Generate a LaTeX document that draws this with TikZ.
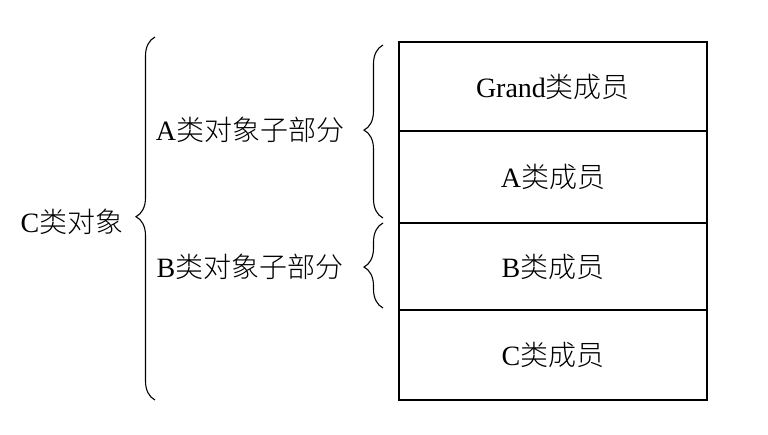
\documentclass[tikz,border=0pt]{standalone}
\usepackage{fontspec}
\setmainfont{Liberation Serif}
\newfontfamily\cjk{Noto Sans CJK SC Light}
\usepackage{tikz}
\usetikzlibrary{positioning}
\usetikzlibrary{decorations.pathreplacing}

\newcommand{\zh}[1]{{\cjk #1}}

\begin{document}
\begin{tikzpicture}[x=1pt,y=-1pt,
  every node/.style={font=\fontsize{28}{32}\selectfont},
  member/.style={draw,line width=1.3pt,outer sep=0pt,minimum width=308pt,inner sep=0pt},
  bracket/.style={decorate,line width=1.1pt,decoration={brace,amplitude=19pt,aspect=#1}}]
\useasboundingbox (0,0) rectangle (768,434);
% object layout
\node[member,minimum height=89pt,anchor=north west] (grand) at (399,42) {Grand\zh{类成员}};
\node[member,minimum height=92pt,below=0pt of grand] (amem) {A\zh{类成员}};
\node[member,minimum height=87pt,below=0pt of amem] (bmem) {B\zh{类成员}};
\node[member,minimum height=90pt,below=0pt of bmem] (cmem) {C\zh{类成员}};
% braces
\draw[bracket=0.505] (155,400) -- (155,37);
\draw[bracket=0.508] (383,218) -- (383,45);
\draw[bracket=0.482] (383,308) -- (383,223);
\node (cobj) at (72,222) {C\zh{类对象}};
\node (apart) at (250,130) {A\zh{类对象子部分}};
\node (bpart) at (250,267) {B\zh{类对象子部分}};
\end{tikzpicture}
\end{document}
